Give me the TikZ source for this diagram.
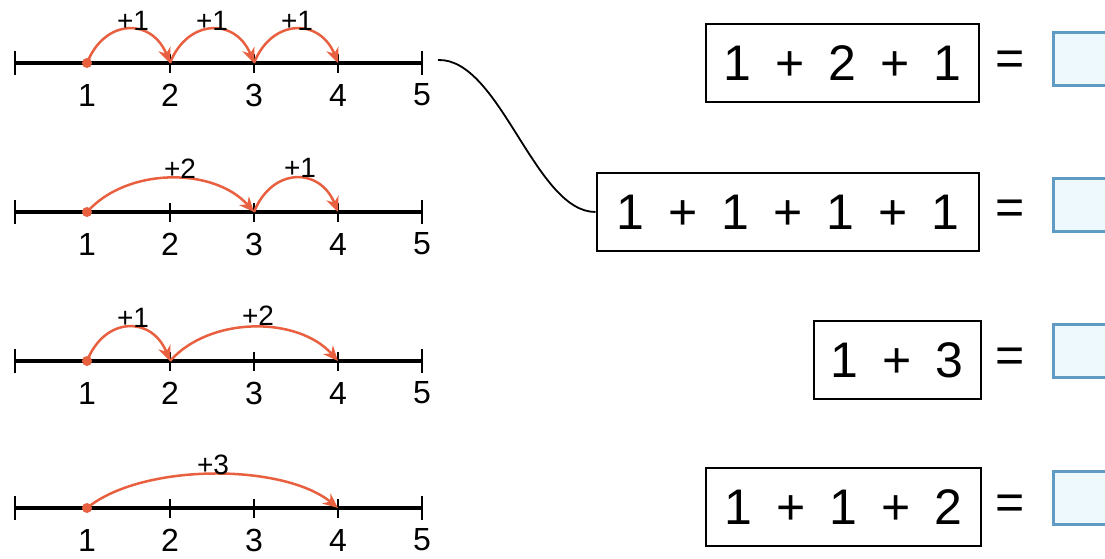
\documentclass[tikz,border=0pt]{standalone}
\usepackage{fontspec}
\setmainfont{Liberation Sans}
\usepackage{tikz}
\usetikzlibrary{arrows.meta,calc}

\definecolor{hop}{RGB}{232,96,64}
\definecolor{ansline}{RGB}{95,155,195}
\definecolor{ansfill}{RGB}{238,249,253}
\newcommand{\gp}{\hspace{24pt}}

\begin{document}
\begin{tikzpicture}[x=1pt, y=-1pt,
        axis/.style={line width=4pt},
        tick/.style={line width=2.5pt},
        jump/.style={draw=hop, line width=2.5pt, -{Stealth[length=15pt,width=13pt]}},
        num/.style={inner sep=0pt, font=\fontsize{32}{32}\selectfont},
        hoplbl/.style={inner sep=0pt, font=\fontsize{28}{28}\selectfont},
        sum/.style={draw, line width=2.5pt, anchor=east, minimum height=78pt, inner sep=0pt, font=\fontsize{50}{50}\selectfont},
        eq/.style={font=\fontsize{50}{50}\selectfont},
        ans/.style={draw=ansline, fill=ansfill, line width=2.5pt, anchor=west, minimum width=62pt, minimum height=53pt, inner sep=0pt}]
            \useasboundingbox (0,0) rectangle (1105,559);

            \foreach \r/\y in {a/63,b/212,c/361,d/508} {
                \coordinate (\r0) at (15,\y);
                \foreach \k/\x in {1/87,2/170,3/254,4/338,5/422}
                    \coordinate (\r\k) at (\x,\y);
                \draw[axis] (\r0) -- (\r5);
                \draw[tick] (\r0) ++(0,-12) -- ++(0,24) (\r5) ++(0,-12) -- ++(0,24);
                \foreach \k in {2,3,4}
                    \draw[tick] (\r\k) ++(0,-9) -- ++(0,19);
                \foreach \k in {1,...,5}
                    \node[num] (\r\k n) at ($(\r\k)+(0,32)$) {\k};
                \fill[hop] (\r1) circle (5);
            }

            \draw[jump] (a1) .. controls +(18,-45) and +(-18,-45) .. (a2);
            \draw[jump] (a2) .. controls +(18,-45) and +(-18,-45) .. (a3);
            \draw[jump] (a3) .. controls +(18,-45) and +(-18,-45) .. (a4);
            \draw[jump] (b1) .. controls +(40,-45) and +(-40,-45) .. (b3);
            \draw[jump] (b3) .. controls +(18,-45) and +(-18,-45) .. (b4);
            \draw[jump] (c1) .. controls +(18,-45) and +(-18,-45) .. (c2);
            \draw[jump] (c2) .. controls +(40,-45) and +(-40,-45) .. (c4);
            \draw[jump] (d1) .. controls +(55,-45) and +(-55,-45) .. (d4);

            \node[hoplbl] (ha1) at (133,21) {+1};
            \node[hoplbl] (ha2) at (212,21) {+1};
            \node[hoplbl] (ha3) at (297,21) {+1};
            \node[hoplbl] (hb1) at (180,169) {+2};
            \node[hoplbl] (hb2) at (300,168) {+1};
            \node[hoplbl] (hc1) at (133,318) {+1};
            \node[hoplbl] (hc2) at (258,316) {+2};
            \node[hoplbl] (hd1) at (213,465) {+3};

            \node[sum, minimum width=273pt] (s1) at (980,63) {1\gp+\gp2\gp+\gp1};
            \node[sum, minimum width=382pt] (s2) at (980,212) {1\gp+\gp1\gp+\gp1\gp+\gp1};
            \node[sum, minimum width=167pt] (s3) at (982,360) {1\gp+\gp3};
            \node[sum, minimum width=275pt] (s4) at (982,507) {1\gp+\gp1\gp+\gp2};

            \node[eq] (e1) at (1010,63) {=};
            \node[eq] (e2) at (1010,212) {=};
            \node[eq] (e3) at (1010,360) {=};
            \node[eq] (e4) at (1010,507) {=};

            \node[ans] (r1) at (1052,59) {};
            \node[ans] (r2) at (1052,205) {};
            \node[ans] (r3) at (1052,351) {};
            \node[ans] (r4) at (1052,498) {};

            % la primera recta va con la suma 1 + 1 + 1 + 1
            \coordinate (tail) at (438,60);
            \draw[line width=1.8pt] (tail) .. controls (500,58) and (535,212) .. (s2.west);
        \end{tikzpicture}
\end{document}
